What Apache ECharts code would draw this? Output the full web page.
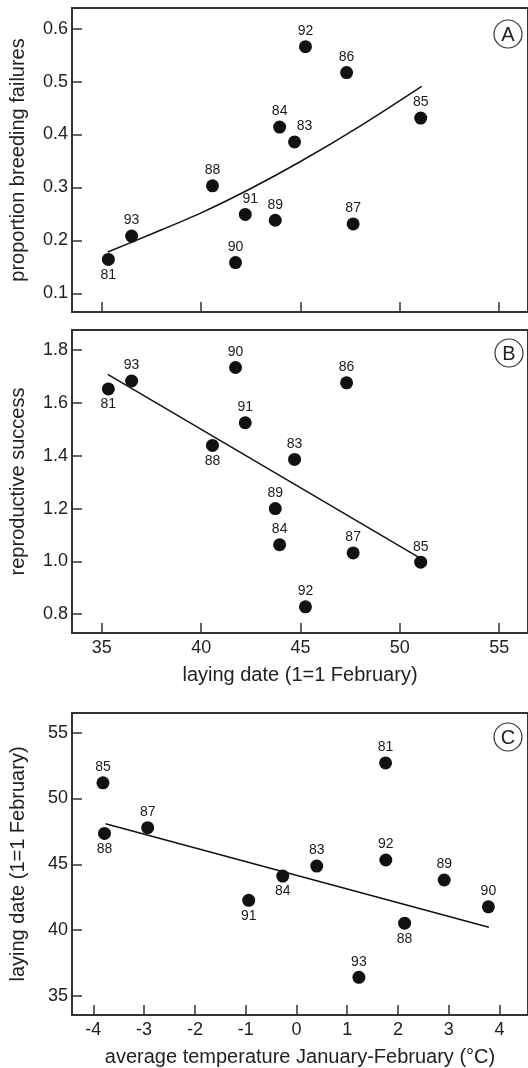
<!DOCTYPE html>
<html>
<head>
<meta charset="utf-8">
<script src="https://cdn.jsdelivr.net/npm/echarts@6/dist/echarts.min.js"></script>
<style>
  html, body { margin: 0; padding: 0; background: #fff; }
  #chart { width: 528px; height: 1068px; }
</style>
</head>
<body>
<div id="chart"></div>
<script>
// panels A and B share laying date per year
const years = ['81', '83', '84', '85', '86', '87', '88', '89', '90', '91', '92', '93'];
const layingDate = [35.33, 44.7, 43.95, 51.05, 47.32, 47.65, 40.57, 43.73, 41.73, 42.22, 45.25, 36.5];
const failures = [0.164, 0.386, 0.414, 0.431, 0.517, 0.231, 0.303, 0.238, 0.158, 0.249, 0.566, 0.208];
const success = [1.653, 1.386, 1.063, 0.997, 1.676, 1.032, 1.439, 1.2, 1.734, 1.525, 0.828, 1.683];

// panel C
const yearsC = ['85', '88', '87', '81', '83', '92', '84', '89', '91', '90', '88', '93'];
const tempC = [-3.81, -3.78, -2.93, 1.755, 0.4, 1.76, -0.27, 2.91, -0.94, 3.78, 2.13, 1.23];
const layC = [51.19, 47.35, 47.78, 52.7, 44.87, 45.33, 44.11, 43.81, 42.27, 41.77, 40.53, 36.42];

// fitted lines
const fitAx = [35.3, 37.5, 40, 42.5, 45, 48, 51.1];
const fitAy = [0.178, 0.212, 0.252, 0.298, 0.349, 0.416, 0.491];
const fitBx = [35.3, 51.0];
const fitBy = [1.708, 1.013];
const fitCx = [-3.76, 3.79];
const fitCy = [48.08, 40.23];

// tick labels
const ticksA = [0.1, 0.2, 0.3, 0.4, 0.5, 0.6];
const ticksB = [0.8, 1.0, 1.2, 1.4, 1.6, 1.8];
const ticksC = [35, 40, 45, 50, 55];
const ticksDate = [35, 40, 45, 50, 55];
const ticksTemp = [-4, -3, -2, -1, 0, 1, 2, 3, 4];

const FONT = 'Liberation Sans, Arial, Helvetica, sans-serif';
const AXIS = '#333';
const INK = '#111';

// which year labels sit under the dot
const below = [['81'], ['81', '88'], ['88', '84', '91']];
const shift = [{ '83': [10, 0], '91': [5, 0] }, {}, {}];

function pts(xs, ys, names, p) {
  return xs.map((x, i) => {
    const n = names[i];
    const under = below[p].indexOf(n) >= 0;
    return {
      value: [x, ys[i]],
      name: n,
      label: { position: under ? 'bottom' : 'top', offset: shift[p][n] || [0, 0] }
    };
  });
}

function pair(xs, ys) {
  return xs.map((x, i) => [x, ys[i]]);
}

function xAx(i, min, max, ticks, labels, name) {
  return {
    type: 'value', gridIndex: i, min: min, max: max,
    name: name || '', nameLocation: 'middle', nameGap: 32,
    nameTextStyle: { fontFamily: FONT, fontSize: 20, color: '#222' },
    axisLine: { show: true, onZero: false, lineStyle: { color: AXIS, width: 2 } },
    axisTick: { show: true, inside: true, length: 10, customValues: ticks, lineStyle: { color: AXIS, width: 1.5 } },
    axisLabel: { show: labels, customValues: ticks, margin: 6, fontFamily: FONT, fontSize: 18, color: '#222' },
    splitLine: { show: false }
  };
}

function yAx(i, min, max, ticks, name, dec) {
  return {
    type: 'value', gridIndex: i, min: min, max: max,
    name: name, nameLocation: 'middle', nameGap: 44,
    nameTextStyle: { fontFamily: FONT, fontSize: 20, color: '#222' },
    axisLine: { show: true, onZero: false, lineStyle: { color: AXIS, width: 2 } },
    axisTick: { show: true, inside: true, length: 10, customValues: ticks, lineStyle: { color: AXIS, width: 1.5 } },
    axisLabel: {
      customValues: ticks, margin: 4, fontFamily: FONT, fontSize: 18, color: '#222',
      formatter: v => v.toFixed(dec)
    },
    splitLine: { show: false }
  };
}

function dots(i, data) {
  return {
    type: 'scatter', xAxisIndex: i, yAxisIndex: i, data: data,
    symbol: 'circle', symbolSize: 13,
    itemStyle: { color: INK, opacity: 1 },
    label: { show: true, formatter: '{b}', distance: 2, fontFamily: FONT, fontSize: 14, color: '#1a1a1a' },
    z: 3
  };
}

function fit(i, data, smooth) {
  return {
    type: 'line', xAxisIndex: i, yAxisIndex: i, data: data, smooth: smooth,
    symbol: 'none', lineStyle: { color: INK, width: 1.5 }, z: 2
  };
}

function tag(letter, cx, cy) {
  return [
    { type: 'circle', shape: { cx: cx, cy: cy, r: 14 }, style: { fill: '#fff', stroke: AXIS, lineWidth: 1.2 } },
    { type: 'text', x: cx, y: cy + 1, style: { text: letter, fontFamily: FONT, fontSize: 20, fill: '#222', align: 'center', verticalAlign: 'middle' } }
  ];
}

const grid = { left: 71, right: -3, show: true, borderColor: AXIS, borderWidth: 2, backgroundColor: 'transparent' };

const option = {
  animation: false,
  grid: [
    Object.assign({ top: 8, height: 304 }, grid),
    Object.assign({ top: 330, height: 303 }, grid),
    Object.assign({ top: 713, height: 303 }, grid)
  ],
  xAxis: [
    xAx(0, 33.5, 56.45, ticksDate, false),
    xAx(1, 33.5, 56.45, ticksDate, true, 'laying date (1=1 February)'),
    xAx(2, -4.42, 4.56, ticksTemp, true, 'average temperature January-February (°C)')
  ],
  yAxis: [
    yAx(0, 0.0646, 0.639, ticksA, 'proportion breeding failures', 1),
    yAx(1, 0.729, 1.876, ticksB, 'reproductive success', 1),
    yAx(2, 33.56, 56.49, ticksC, 'laying date (1=1 February)', 0)
  ],
  series: [
    fit(0, pair(fitAx, fitAy), 0.3),
    dots(0, pts(layingDate, failures, years, 0)),
    fit(1, pair(fitBx, fitBy), false),
    dots(1, pts(layingDate, success, years, 1)),
    fit(2, pair(fitCx, fitCy), false),
    dots(2, pts(tempC, layC, yearsC, 2))
  ],
  graphic: [].concat(tag('A', 508, 34), tag('B', 509, 353), tag('C', 508, 737))
};

const chart = echarts.init(document.getElementById('chart'), null, { renderer: 'canvas' });
chart.setOption(option);
</script>
</body>
</html>
